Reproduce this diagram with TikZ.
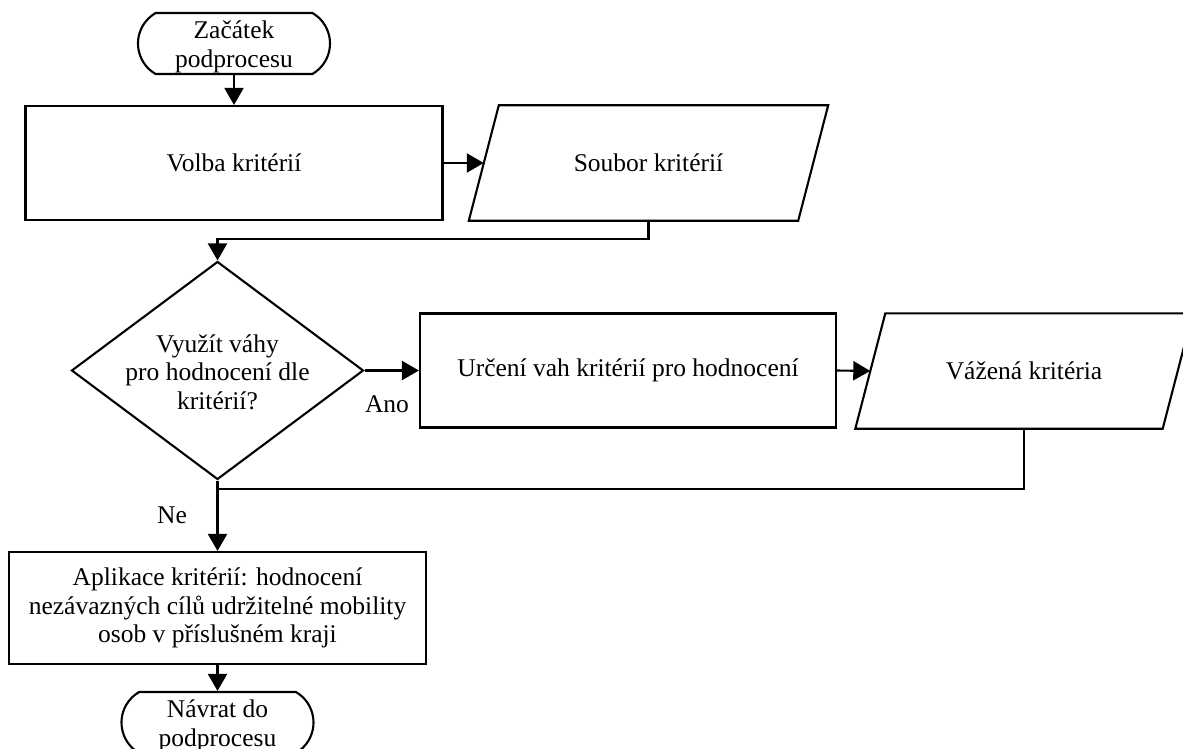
\documentclass[tikz,border=0pt]{standalone}
\usepackage{fontspec}
\setmainfont{Liberation Serif}
\usetikzlibrary{shapes.geometric,shapes.misc,arrows.meta}
\begin{document}
\begin{tikzpicture}[x=1pt,y=-1pt,
  every node/.style={font=\fontsize{25.5}{28.5}\selectfont, align=center, inner sep=0pt},
  lw/.style={line width=2.1pt},
  flow/.style={lw, -{Triangle[length=17pt,width=19pt]}},
  link/.style={lw},
  process/.style={draw, lw, rectangle, minimum width=#1, minimum height=114pt},
  % body of a data node; its slanted outline is drawn below
  data/.style={rectangle, minimum width=#1, minimum height=115pt},
  terminal/.style={draw, lw, rounded rectangle, rounded rectangle arc length=120,
    minimum width=192pt, minimum height=61pt},
  decision/.style={draw, lw, diamond, minimum width=292pt, minimum height=218pt},
  answer/.style={}
]
\useasboundingbox (0,0) rectangle (1183,749);
\clip (0,0) rectangle (1183,749);

% shapes
\node[terminal] (start) at (234,43.5) {};
\node (starttext) at (234,47) {Začátek\\podprocesu};
\node[process=417pt] (volba) at (234,163) {Volba kritérií};
\node[data=329pt] (soubor) at (648.5,163) {Soubor kritérií};
\node[decision] (dec) at (217.5,370.5) {};
\node (dectext) at (217.5,372) {Využít váhy\\pro hodnocení dle\\kritérií?};
\node[process=416pt] (urceni) at (628,370.5) {Určení vah kritérií pro hodnocení};
\node[data=307pt] (vaz) at (1024,371) {Vážená kritéria};
\node[process=417pt, minimum height=112pt] (apl) at (217.5,608)
  {Aplikace kritérií: hodnocení\\nezávazných cílů udržitelné mobility\\osob v příslušném kraji};
\node[terminal] (navrat) at (217.5,722.5) {};
\node (navrattext) at (217.5,726) {Návrat do\\podprocesu};

% slanted outlines of the data nodes
\foreach \n in {soubor,vaz}
  \draw[lw] ([xshift=-15pt]\n.south west) -- ([xshift=15pt]\n.north west)
    -- ([xshift=15pt]\n.north east) -- ([xshift=-15pt]\n.south east) -- cycle;

% branch labels
\node[answer] (ano) at (387,404) {Ano};
\node[answer] (ne) at (172,515) {Ne};

% connectors
\draw[flow] (start.south) -- (volba.north);
\draw[flow] (volba.east) -- (soubor.west);
\draw[flow] (soubor.south) -- ++(0,18) -| (dec.north);
\draw[flow] (dec.east) -- (urceni.west);
\draw[flow] (urceni.east) -- (vaz.west);
\coordinate (merge) at (dec.south |- 0,489);
\draw[link] (vaz.south) |- (merge);
\draw[flow] (dec.south) -- (apl.north);
\draw[flow] (apl.south) -- (navrat.north);
\end{tikzpicture}
\end{document}
